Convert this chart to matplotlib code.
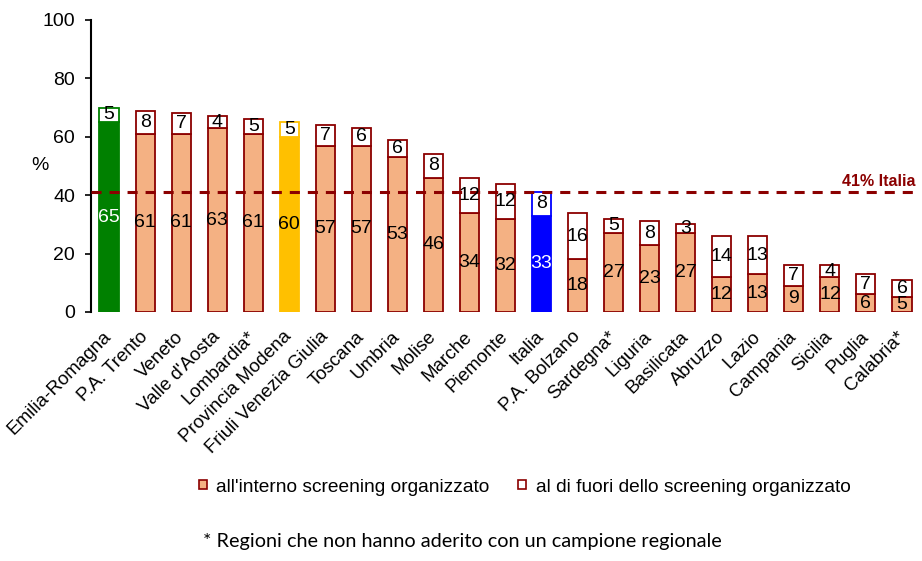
import matplotlib
matplotlib.use("Agg")
import matplotlib.pyplot as plt
from matplotlib.patches import Patch
from matplotlib.transforms import blended_transform_factory
import numpy as np

regions = ["Emilia-Romagna", "P.A. Trento", "Veneto", "Valle d'Aosta", "Lombardia*",
           "Provincia Modena", "Friuli Venezia Giulia", "Toscana", "Umbria", "Molise",
           "Marche", "Piemonte", "Italia", "P.A. Bolzano", "Sardegna*", "Liguria",
           "Basilicata", "Abruzzo", "Lazio", "Campania", "Sicilia", "Puglia", "Calabria*"]
inside = [65, 61, 61, 63, 61, 60, 57, 57, 53, 46, 34, 32, 33, 18, 27, 23, 27, 12, 13, 9, 12, 6, 5]
outside = [5, 8, 7, 4, 5, 5, 7, 6, 6, 8, 12, 12, 8, 16, 5, 8, 3, 14, 13, 7, 4, 7, 6]
italia_ref = 41

SALMON = "#F4B183"
DARKRED = "#8B0000"
highlight = {"Emilia-Romagna": "#008000", "Provincia Modena": "#FFC000", "Italia": "#0000FF"}
label_white = {"Emilia-Romagna", "Italia"}

plt.rcParams["font.family"] = ["Liberation Sans", "DejaVu Sans"]

fig = plt.figure(figsize=(9.22, 5.61), dpi=100)
ax = fig.add_axes([91 / 922, 1 - 312 / 561, (920 - 91) / 922, (312 - 20) / 561])

x = np.arange(len(regions))
width = 0.53
for i, name in enumerate(regions):
    fill = highlight.get(name, SALMON)
    edge = highlight.get(name, DARKRED)
    ax.bar(x[i], inside[i], width, color=fill, edgecolor=edge, linewidth=1.3, zorder=3)
    ax.bar(x[i], outside[i], width, bottom=inside[i], color="white", edgecolor=edge,
           linewidth=1.3, zorder=3)
    ax.text(x[i], inside[i] / 2, str(inside[i]), ha="center", va="center", fontsize=14,
            color="white" if name in label_white else "black", zorder=5)
    ax.text(x[i], inside[i] + outside[i] / 2, str(outside[i]), ha="center", va="center",
            fontsize=14, color="black", zorder=5)

# national reference line with its label at the right end
ax.axhline(italia_ref, xmin=0, xmax=0.994, color=DARKRED, linewidth=2.2,
           dashes=(3.3, 2.6), zorder=4)
ax.text(0.994, italia_ref + 1.2, f"{italia_ref}% Italia",
        transform=blended_transform_factory(ax.transAxes, ax.transData),
        ha="right", va="bottom", fontsize=11.5, fontweight="bold", color=DARKRED)

ax.set_ylim(0, 100)
ax.set_xlim(-0.5, len(regions) - 0.5)
ax.set_yticks(range(0, 101, 20))
ax.tick_params(axis="y", length=4.5, width=1.2, labelsize=14, pad=7, direction="out")
for side in ("top", "right", "bottom"):
    ax.spines[side].set_visible(False)
ax.spines["left"].set_linewidth(1.5)

ax.set_xticks(x)
ax.set_xticklabels(regions, rotation=45, ha="right", va="center", rotation_mode="anchor",
                   fontsize=13.5)
ax.tick_params(axis="x", length=0, pad=16)

fig.text(40 / 922, 1 - 165 / 561, "%", fontsize=14, ha="center", va="center")

handles = [Patch(facecolor=SALMON, edgecolor=DARKRED, linewidth=1.2),
           Patch(facecolor="white", edgecolor=DARKRED, linewidth=1.2)]
fig.legend(handles, ["all'interno screening organizzato", "al di fuori dello screening organizzato"],
           loc="center left", bbox_to_anchor=(199 / 922, 1 - 487 / 561), ncol=2, frameon=False,
           fontsize=13.8, handlelength=0.4, handleheight=0.4, handletextpad=0.5,
           columnspacing=1.5, borderaxespad=0, borderpad=0)

fig.text(203 / 922, 1 - 547 / 561, "* Regioni che non hanno aderito con un campione regionale",
         fontsize=14.3, ha="left", va="baseline", family=["Lato", "DejaVu Sans"])

fig.savefig("out.png", dpi=100)
